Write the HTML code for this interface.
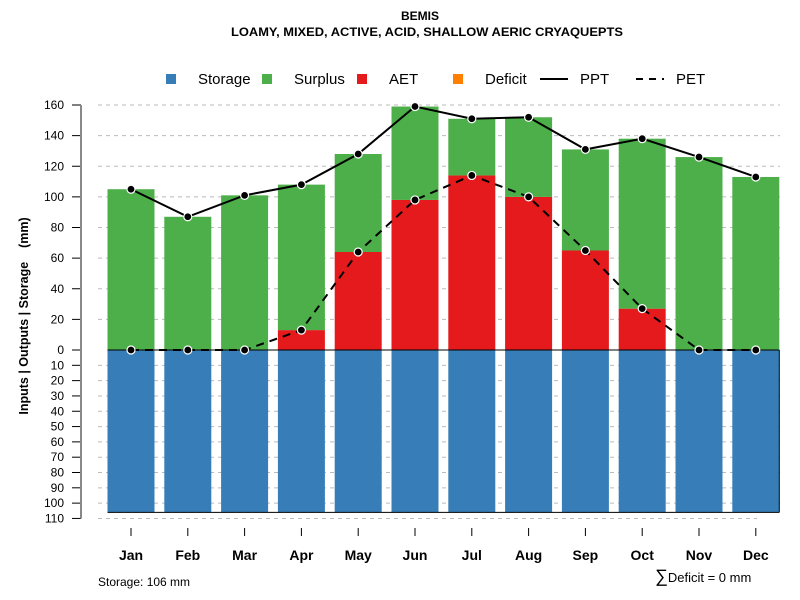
<!DOCTYPE html>
<html><head><meta charset="utf-8"><style>
body{margin:0;background:#fff}
svg{font-family:"Liberation Sans",sans-serif;display:block}
</style></head><body>
<svg id="chart" width="800" height="600" viewBox="0 0 800 600">
<text x="420" y="20" text-anchor="middle" font-size="12" font-weight="bold">BEMIS</text>
<text x="427" y="36" text-anchor="middle" font-size="12" font-weight="bold" textLength="392" lengthAdjust="spacingAndGlyphs">LOAMY, MIXED, ACTIVE, ACID, SHALLOW AERIC CRYAQUEPTS</text>
<g>
<rect x="166" y="74" width="10" height="10" fill="#377eb8"/>
<text x="198" y="84" font-size="15">Storage</text>
<rect x="262" y="74" width="10" height="10" fill="#4daf4a"/>
<text x="294" y="84" font-size="15">Surplus</text>
<rect x="357" y="74" width="10" height="10" fill="#e41a1c"/>
<text x="389" y="84" font-size="15">AET</text>
<rect x="453" y="74" width="10" height="10" fill="#ff7f00"/>
<text x="485" y="84" font-size="15">Deficit</text>
<line x1="540" y1="79" x2="568" y2="79" stroke="#000" stroke-width="2"/>
<text x="580" y="84" font-size="15">PPT</text>
<line x1="636" y1="79" x2="664" y2="79" stroke="#000" stroke-width="2" stroke-dasharray="7,6"/>
<text x="676" y="84" font-size="15">PET</text>
</g>
<text transform="translate(28,316) rotate(-90)" text-anchor="middle" font-size="12.5" font-weight="bold" xml:space="preserve" style="white-space:pre">Inputs | Outputs | Storage    (mm)</text>
<text x="98" y="586" font-size="12">Storage: 106 mm</text>
<text x="655" y="582" font-size="13"><tspan font-size="18">∑</tspan>Deficit = 0 mm</text>
<g id="grid"></g><g id="bars"></g><g id="axes"></g><g id="lines"></g>
</svg>
<script>
const months=["Jan","Feb","Mar","Apr","May","Jun","Jul","Aug","Sep","Oct","Nov","Dec"];
const ppt=[105,87,101,108,128,159,151,152,131,138,126,113];
const pet=[0,0,0,13,64,98,114,100,65,27,0,0];
const aet=[0,0,0,13,64,98,114,100,65,27,0,0];
const storage=[106,106,106,106,106,106,106,106,106,106,106,106];
const upTicks=[0,20,40,60,80,100,120,140,160];
const downTicks=[10,20,30,40,50,60,70,80,90,100,110];
const NS="http://www.w3.org/2000/svg";
const y0=350,k=245/160;
function yUp(v){return y0-v*k}
function yDown(v){return y0+v*k}
function xC(i){return 131+i*56.8}
const bw=47;
function mk(p,t,a){const e=document.createElementNS(NS,t);for(const n in a)e.setAttribute(n,a[n]);document.getElementById(p).appendChild(e);return e}
upTicks.forEach(v=>{if(v>0){const g=mk('grid','line',{x1:98,x2:780,y1:yUp(v),y2:yUp(v),stroke:'#bbb','stroke-dasharray':'4,4'});

}
mk('axes','line',{x1:72,x2:81,y1:yUp(v),y2:yUp(v),stroke:'#000'});
const l=mk('axes','text',{x:64,y:yUp(v)+4,'text-anchor':'end','font-size':12});l.textContent=v;

});
downTicks.forEach(v=>{const g=mk('grid','line',{x1:98,x2:v==110?757:780,y1:yDown(v),y2:yDown(v),stroke:'#bbb','stroke-dasharray':'4,4'});


mk('axes','line',{x1:72,x2:81,y1:yDown(v),y2:yDown(v),stroke:'#000'});
const l=mk('axes','text',{x:64,y:yDown(v)+4,'text-anchor':'end','font-size':12});l.textContent=v;

});
mk('axes','line',{x1:81,x2:81,y1:yUp(160),y2:yDown(110),stroke:'#888','stroke-width':2});
months.forEach((m,i)=>{const x=xC(i);
const s=mk('bars','rect',{x:x-bw/2,y:y0,width:bw,height:storage[i]*k,fill:'#377eb8'});


const a=mk('bars','rect',{x:x-bw/2,y:yUp(aet[i]),width:bw,height:aet[i]*k,fill:'#e41a1c'});


const su=mk('bars','rect',{x:x-bw/2,y:yUp(ppt[i]),width:bw,height:(ppt[i]-aet[i])*k,fill:'#4daf4a'});


mk('axes','line',{x1:x,x2:x,y1:528,y2:536,stroke:'#000'});
const l=mk('axes','text',{x:x,y:560,'text-anchor':'middle','font-size':14,'font-weight':'bold'});l.textContent=m;

});
const xr=xC(11)+bw/2;
mk('bars','line',{x1:xC(0)-bw/2,x2:xr,y1:y0,y2:y0,stroke:'#000'});
mk('bars','line',{x1:xC(0)-bw/2,x2:xr,y1:yDown(storage[0]),y2:yDown(storage[0]),stroke:'#000'});
mk('bars','line',{x1:xr,x2:xr,y1:y0,y2:yDown(storage[0]),stroke:'#000'});
const pp=mk('lines','polyline',{points:ppt.map((v,i)=>xC(i)+','+yUp(v)).join(' '),fill:'none',stroke:'#000','stroke-width':2});


const pe=mk('lines','polyline',{points:pet.map((v,i)=>xC(i)+','+yUp(v)).join(' '),fill:'none',stroke:'#000','stroke-width':2,'stroke-dasharray':'8,6'});


[ppt,pet].forEach((arr,j)=>arr.forEach((v,i)=>{const c=mk('lines','circle',{cx:xC(i),cy:yUp(v),r:4,fill:'#000',stroke:'#fff','stroke-width':1.2});

}));
</script>
</body></html>
